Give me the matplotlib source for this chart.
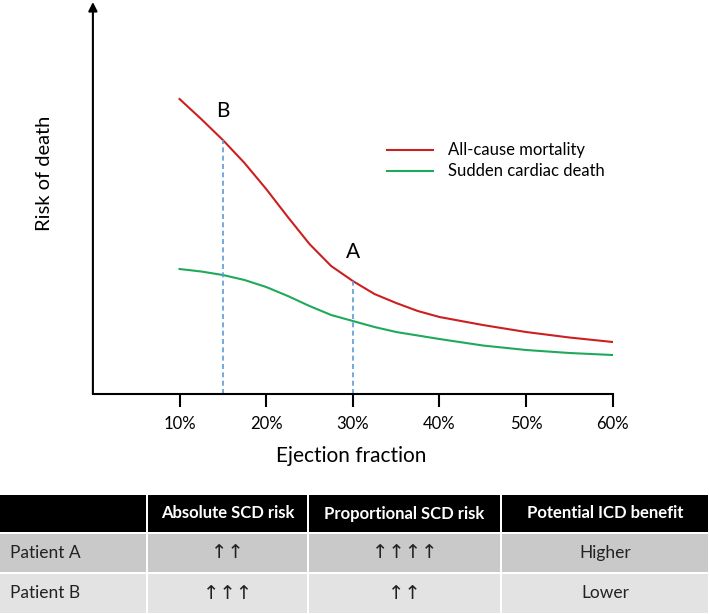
import numpy as np
import matplotlib.pyplot as plt
from matplotlib.patches import Rectangle

plt.rcParams['font.family'] = ['Lato', 'DejaVu Sans']

# Curvas (fração de ejeção em %, risco em unidades arbitrárias)
ef_all = [10, 12.5, 15, 17.5, 20, 22.5, 25, 27.5, 30, 32.5, 35, 37.5, 40, 45, 50, 55, 60]
risk_all = [2.95, 2.75, 2.54, 2.31, 2.05, 1.77, 1.50, 1.28, 1.13, 1.00, 0.91, 0.83, 0.77, 0.69, 0.62, 0.565, 0.52]

ef_scd = [10, 12.5, 15, 17.5, 20, 22.5, 25, 27.5, 30, 32.5, 35, 40, 45, 50, 55, 60]
risk_scd = [1.25, 1.225, 1.19, 1.14, 1.07, 0.98, 0.88, 0.79, 0.73, 0.67, 0.62, 0.55, 0.485, 0.44, 0.41, 0.39]

patients = ['A', 'B']
patient_ef = [30, 15]

x_ticks = [10, 20, 30, 40, 50, 60]

# Tabela
col_headers = ['', 'Absolute SCD risk', 'Proportional SCD risk', 'Potential ICD benefit']
row_labels = ['Patient A', 'Patient B']
abs_risk = ['↑↑', '↑↑↑']
prop_risk = ['↑↑↑↑', '↑↑']
icd_benefit = ['Higher', 'Lower']

W, H = 709, 614
fig = plt.figure(figsize=(W / 100, H / 100), dpi=100)

# --- grafico ---
ax = fig.add_axes([92.9 / W, 1 - 394 / H, (612.7 - 92.9) / W, 392 / H])
ax.set_xlim(0, 60)
ax.set_ylim(0, 3.92)

red = '#cc1f1f'
green = '#1fa95a'
ax.plot(ef_all, risk_all, color=red, lw=1.5, solid_joinstyle='round', label='All-cause mortality')
ax.plot(ef_scd, risk_scd, color=green, lw=1.5, solid_joinstyle='round', label='Sudden cardiac death')

for name, ef in zip(patients, patient_ef):
    r = np.interp(ef, ef_all, risk_all)
    ax.plot([ef, ef], [0, r], color='#5b9bd5', lw=1.2, ls=(0, (3, 2)))
    ax.annotate(name, (ef, r), xytext=(0, 21), textcoords='offset points',
                ha='center', va='center', fontsize=15)

for s in ['top', 'right', 'left']:
    ax.spines[s].set_visible(False)
ax.spines['bottom'].set_linewidth(1.5)
ax.annotate('', xy=(0, 1.0), xytext=(0, 0), xycoords='axes fraction',
            arrowprops=dict(arrowstyle='-|>', lw=1.5, color='black', mutation_scale=13,
                            shrinkA=0, shrinkB=0))

ax.set_yticks([])
ax.set_xticks(x_ticks)
ax.set_xticklabels([f'{t}%' for t in x_ticks], fontsize=12)
ax.tick_params(axis='x', direction='out', length=9.5, width=1.5, pad=6)

ax.legend(loc='center left', bbox_to_anchor=(387 / W, 1 - 161 / H), bbox_transform=fig.transFigure,
          frameon=False, fontsize=12, handlelength=2.75, handletextpad=0.9,
          borderpad=0, borderaxespad=0, labelspacing=0.3)

fig.text(351 / W, 1 - 456 / H, 'Ejection fraction', ha='center', va='center', fontsize=15)
fig.text(44 / W, 1 - 173 / H, 'Risk of death', ha='center', va='center', rotation=90, fontsize=14.5)

# --- tabela ---
tab = fig.add_axes([0, 0, 1, 1])
tab.set_xlim(0, W)
tab.set_ylim(H, 0)
tab.axis('off')
tab.patch.set_alpha(0)

col_edges = [0, 147, 308, 501, W]
row_edges = [(495, 532), (534, 572), (574, 613)]
row_colors = ['black', '#c9c9c9', '#e3e3e3']

rows = [col_headers] + [[row_labels[i], abs_risk[i], prop_risk[i], icd_benefit[i]] for i in range(2)]
for ri, (y0, y1) in enumerate(row_edges):
    for ci in range(4):
        x0, x1 = col_edges[ci], col_edges[ci + 1]
        tab.add_patch(Rectangle((x0 + (1 if ci > 0 else 0), y0), x1 - x0 - (2 if ci > 0 else 1), y1 - y0,
                                facecolor=row_colors[ri], edgecolor='none'))
        txt = rows[ri][ci]
        if not txt:
            continue
        if ri == 0:
            tab.text((x0 + x1) / 2, (y0 + y1) / 2, txt, ha='center', va='center',
                     color='white', fontsize=12, fontweight='bold')
        elif ci == 0:
            tab.text(10, (y0 + y1) / 2, txt, ha='left', va='center', color='#222222', fontsize=12.5)
        elif '↑' in txt:
            tab.text((x0 + x1) / 2, (y0 + y1) / 2, txt, ha='center', va='center', color='#222222',
                     fontsize=14, family=['DejaVu Sans'])
        else:
            tab.text((x0 + x1) / 2, (y0 + y1) / 2, txt, ha='center', va='center', color='#222222',
                     fontsize=12.5)

fig.savefig('out.png', dpi=100)
